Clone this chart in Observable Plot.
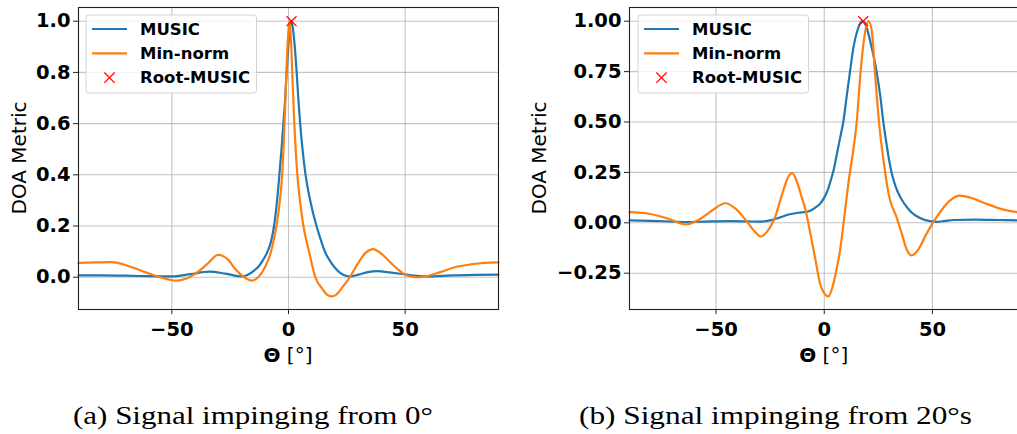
<!DOCTYPE html>
<html>
<head>
<meta charset="utf-8">
<script src="https://cdn.jsdelivr.net/npm/d3@7"></script>
<script src="https://cdn.jsdelivr.net/npm/@observablehq/plot@0.6"></script>
<style>
  html, body { margin: 0; padding: 0; background: #fff; }
  #page { position: relative; width: 1017px; height: 434px; overflow: hidden; background: #fff; }
  #page > svg { position: absolute; top: 0; }
</style>
</head>
<body>
<div id="page"></div>
<script>
// ---- (a) signal impinging from 0° ----
const thetaMusicA = [-90, -80, -70, -60, -50, -42, -34, -27, -20, -17, -14.5, -13, -11, -9, -7.4, -6.2, -5, -4, -3, -2.2, -1.4, -0.8, -0.1, 0.5, 1.2, 1.9, 2.7, 3.5, 4.2, 5, 6, 7.3, 9.3, 12, 13.7, 15.6, 17.7, 19.9, 22, 24.2, 26.3, 30, 34, 38, 44, 50, 55, 60, 70, 80, 90];
const musicA = [0.007, 0.007, 0.006, 0.004, 0.003, 0.012, 0.022, 0.014, 0.003, 0.012, 0.028, 0.04, 0.066, 0.1, 0.143, 0.2, 0.29, 0.39, 0.5, 0.6, 0.7, 0.8, 0.9, 0.97, 1.0, 0.97, 0.9, 0.8, 0.7, 0.6, 0.5, 0.4, 0.3, 0.2, 0.15, 0.1, 0.065, 0.037, 0.018, 0.007, 0.003, 0.01, 0.02, 0.024, 0.018, 0.011, 0.005, 0.003, 0.007, 0.009, 0.01];
const thetaMinNormA = [-90, -82, -75.8, -70, -65, -61.5, -55, -48, -44, -40, -35, -30.1, -26, -22.9, -19, -15.8, -13, -10.1, -7.8, -5.8, -4.5, -3.7, -2.7, -1.7, -0.9, -0.2, 0.4, 1, 1.6, 2.5, 3.8, 4.9, 6.4, 8.8, 11.5, 14.5, 16.5, 18.4, 20.5, 23, 26.3, 29.5, 33, 36.3, 40, 44, 47, 50, 53, 56, 60, 65, 71.3, 78, 84, 90];
const minNormA = [0.056, 0.058, 0.059, 0.048, 0.032, 0.02, 0.0, -0.013, -0.006, 0.013, 0.05, 0.087, 0.07, 0.033, 0.0, -0.013, 0.0, 0.039, 0.09, 0.169, 0.24, 0.3, 0.4, 0.6, 0.8, 0.94, 1.0, 0.94, 0.8, 0.6, 0.4, 0.3, 0.2, 0.1, 0.0, -0.045, -0.068, -0.075, -0.068, -0.04, 0.0, 0.05, 0.095, 0.11, 0.09, 0.055, 0.03, 0.01, 0.002, 0.0, 0.006, 0.02, 0.039, 0.05, 0.056, 0.058];
const rootThetaA = [1.3];
const rootValueA = [1.0];
const yTicksA = [0, 0.2, 0.4, 0.6, 0.8, 1.0];

// ---- (b) signal impinging from 20° ----
const thetaMusicB = [-90, -80, -70, -64, -55, -44, -36, -30, -25, -20, -16.4, -12, -8, -6, -4, -2, 0, 1.5, 3, 4.5, 6, 7.5, 8.8, 10.4, 11.9, 13.5, 15.5, 17.5, 19.5, 21.5, 24.2, 26, 27.3, 28.8, 30, 31.1, 33, 35, 37, 40, 44, 48.8, 52, 56, 60, 70, 80, 90];
const musicB = [0.012, 0.01, 0.006, 0.004, 0.006, 0.008, 0.007, 0.006, 0.012, 0.028, 0.041, 0.05, 0.055, 0.062, 0.076, 0.094, 0.125, 0.16, 0.21, 0.27, 0.35, 0.43, 0.5, 0.63, 0.75, 0.87, 0.96, 1.0, 0.97, 0.89, 0.75, 0.62, 0.5, 0.39, 0.31, 0.25, 0.18, 0.13, 0.095, 0.055, 0.025, 0.008, 0.005, 0.01, 0.014, 0.016, 0.014, 0.012];
const thetaMinNormB = [-90, -81, -72, -64, -58, -52, -45.6, -41, -36, -32, -29.4, -26.5, -23, -19.5, -16.8, -14.8, -12.5, -10.5, -8.6, -6.3, -4, -2, 0, 1.9, 3.5, 5.5, 7.3, 9.5, 11.2, 13.4, 15, 16.8, 18.5, 20.5, 22, 23.4, 25.3, 27.5, 30, 33.4, 36, 38, 40.4, 43, 47, 50.4, 54, 58, 62.7, 69, 75, 82, 90];
const minNormB = [0.053, 0.045, 0.02, -0.008, 0.015, 0.06, 0.097, 0.07, 0.01, -0.045, -0.068, -0.045, 0.02, 0.14, 0.225, 0.246, 0.2, 0.13, 0.061, -0.06, -0.187, -0.3, -0.35, -0.365, -0.33, -0.24, -0.137, 0.05, 0.2, 0.36, 0.5, 0.75, 0.92, 1.0, 0.95, 0.75, 0.5, 0.3, 0.13, 0.028, -0.06, -0.13, -0.162, -0.14, -0.06, 0.003, 0.06, 0.11, 0.135, 0.12, 0.094, 0.068, 0.052];
const rootThetaB = [18.0];
const rootValueB = [1.0];
const yTicksB = [-0.25, 0, 0.25, 0.5, 0.75, 1.0];

const xTicks = [-50, 0, 50];
const seriesNames = ["MUSIC", "Min-norm", "Root-MUSIC"];
const captions = ["(a) Signal impinging from 0°", "(b) Signal impinging from 20°s"];

const blue = "#1f77b4", orange = "#ff7f0e", red = "#ff0000";
const pairs = (xs, ys) => xs.map((x, i) => ({x, y: ys[i]}));

function panel({musicX, musicY, minX, minY, rootX, rootY, yDomain, yTicks, yFormat,
                width, marginLeft, marginRight, legendX, yLabelX}) {
  const height = 372, marginTop = 7, marginBottom = 63;
  const svg = Plot.plot({
    width, height, marginLeft, marginRight, marginTop, marginBottom,
    style: {fontFamily: "DejaVu Sans", fontSize: "19.5px", fontWeight: "bold", color: "#000", background: "transparent", overflow: "visible"},
    x: {domain: [-90, 90]},
    y: {domain: yDomain},
    marks: [
      Plot.gridX(xTicks, {stroke: "#b0b0b0", strokeOpacity: 0.75, strokeWidth: 1.1}),
      Plot.gridY(yTicks, {stroke: "#b0b0b0", strokeOpacity: 0.75, strokeWidth: 1.1}),
      Plot.line(pairs(musicX, musicY), {x: "x", y: "y", stroke: blue, strokeWidth: 2.2, curve: "monotone-x"}),
      Plot.line(pairs(minX, minY), {x: "x", y: "y", stroke: orange, strokeWidth: 2.2, curve: "monotone-x"}),
      Plot.dot(pairs(rootX, rootY), {x: "x", y: "y", symbol: "times", r: 4.6, stroke: red, strokeWidth: 1.2}),
      Plot.frame({stroke: "#222", strokeWidth: 1.1}),
      Plot.axisX(xTicks, {tickSize: 5, tickPadding: 8, tickFormat: d3.format("d"), label: null, stroke: "#222"}),
      Plot.axisY(yTicks, {tickSize: 5, tickPadding: 3, tickFormat: d3.format(yFormat), label: null, stroke: "#222"})
    ]
  });

  const s = d3.select(svg);
  const frameCx = marginLeft + (width - marginLeft - marginRight) / 2;
  const frameCy = marginTop + (height - marginTop - marginBottom) / 2;

  // axis titles
  s.append("text")
    .attr("transform", `translate(${yLabelX},${frameCy}) rotate(-90)`)
    .attr("text-anchor", "middle").attr("dominant-baseline", "central")
    .style("font", "normal 20px 'DejaVu Sans'").attr("fill", "#000")
    .text("DOA Metric");
  const xl = s.append("text")
    .attr("x", frameCx).attr("y", 362).attr("text-anchor", "middle")
    .style("font-family", "DejaVu Sans").style("font-size", "20px").attr("fill", "#000");
  xl.append("tspan").style("font-weight", "bold").text("Θ");
  xl.append("tspan").style("font-weight", "normal").text(" [°]");

  // legend
  const lg = s.append("g").attr("transform", `translate(${legendX},15)`);
  lg.append("rect").attr("width", 170.5).attr("height", 78).attr("rx", 3)
    .attr("fill", "#fff").attr("fill-opacity", 0.8).attr("stroke", "#d4d4d4").attr("stroke-width", 1);
  const rows = [14, 38.3, 62.7];
  [blue, orange].forEach((c, i) => {
    lg.append("line").attr("x1", 6).attr("x2", 41).attr("y1", rows[i]).attr("y2", rows[i])
      .attr("stroke", c).attr("stroke-width", 2.2);
  });
  const cx = 23.5, cy = rows[2], h = 5.2;
  lg.append("path").attr("d", `M${cx - h},${cy - h}L${cx + h},${cy + h}M${cx - h},${cy + h}L${cx + h},${cy - h}`)
    .attr("stroke", red).attr("stroke-width", 1.2).attr("fill", "none");
  seriesNames.forEach((name, i) => {
    lg.append("text").attr("x", 54).attr("y", rows[i])
      .attr("text-anchor", "start").attr("dominant-baseline", "central")
      .style("font", "bold 16.5px 'DejaVu Sans'").attr("fill", "#000").text(name);
  });
  return svg;
}

const page = document.getElementById("page");

const svgA = panel({
  musicX: thetaMusicA, musicY: musicA, minX: thetaMinNormA, minY: minNormA,
  rootX: rootThetaA, rootY: rootValueA,
  yDomain: [-0.126, 1.0535], yTicks: yTicksA, yFormat: ".1f",
  width: 510, marginLeft: 78, marginRight: 12, legendX: 86, yLabelX: 18.5
});
svgA.style.left = "0px";
page.appendChild(svgA);

const svgB = panel({
  musicX: thetaMusicB, musicY: musicB, minX: thetaMinNormB, minY: minNormB,
  rootX: rootThetaB, rootY: rootValueB,
  yDomain: [-0.43, 1.068], yTicks: yTicksB, yFormat: ".2f",
  width: 510, marginLeft: 119, marginRight: 1.5, legendX: 128, yLabelX: 29
});
svgB.style.left = "510px";
page.appendChild(svgB);

// sub-figure captions
const cap = d3.select(page).append("svg").attr("width", 1017).attr("height", 434)
  .style("left", "0px").style("pointer-events", "none");
[[73, 360], [579, 393]].forEach(([x, len], i) => {
  cap.append("text").attr("x", x).attr("y", 424)
    .attr("textLength", len).attr("lengthAdjust", "spacingAndGlyphs")
    .style("font-family", "'Liberation Serif', serif").style("font-size", "25px").attr("fill", "#000")
    .text(captions[i]);
});
</script>
</body>
</html>
